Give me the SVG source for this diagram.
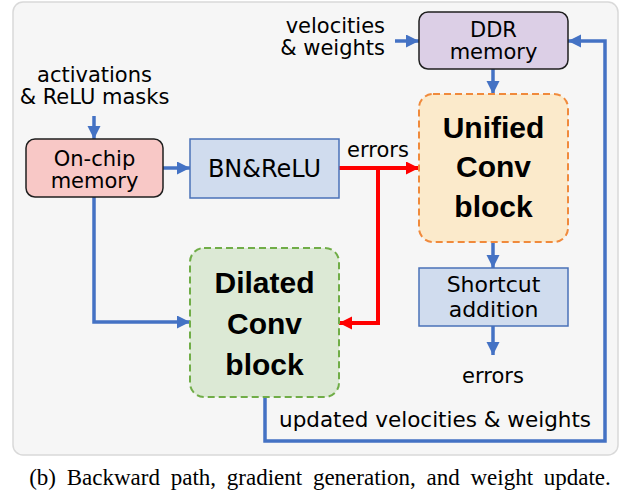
<svg xmlns="http://www.w3.org/2000/svg" width="626" height="495" viewBox="0 0 626 495">
<style>
.t{font-family:"DejaVu Sans",sans-serif;font-size:21px;fill:#000;text-anchor:middle}
.b{font-family:"Liberation Sans",Arial,sans-serif;font-size:30px;font-weight:bold;fill:#000;text-anchor:middle}
.solid{stroke:#1f1f1f;stroke-width:1.5}
.blue{fill:#d0dcee;stroke:#4a72b8;stroke-width:1.5}
.bl{fill:none;stroke:#4472c4;stroke-width:3.5}
.rd{fill:none;stroke:#ff0000;stroke-width:4}
</style>
<defs>
<marker id="ab" markerUnits="userSpaceOnUse" markerWidth="14" markerHeight="14" refX="13" refY="6.5" orient="auto"><path d="M0,0 L13,6.5 L0,13 z" fill="#4472c4"/></marker>
<marker id="ar" markerUnits="userSpaceOnUse" markerWidth="14" markerHeight="14" refX="13" refY="6.5" orient="auto"><path d="M0,0 L13,6.5 L0,13 z" fill="#ff0000"/></marker>
</defs>
<rect x="13" y="2" width="605" height="453" rx="10" fill="#f6f6f6" stroke="#d9d9d9" stroke-width="1.5"/>
<g id="connectors">
<line class="bl" x1="94" y1="116" x2="94" y2="139" marker-end="url(#ab)"/>
<line class="bl" x1="163" y1="168" x2="190" y2="168" marker-end="url(#ab)"/>
<line class="bl" x1="395" y1="41" x2="419" y2="41" marker-end="url(#ab)"/>
<line class="bl" x1="493" y1="69" x2="493" y2="94" marker-end="url(#ab)"/>
<line class="bl" x1="493" y1="242" x2="493" y2="268" marker-end="url(#ab)"/>
<line class="bl" x1="493" y1="326" x2="493" y2="355" marker-end="url(#ab)"/>
<polyline class="bl" points="94,197 94,322 190,322" marker-end="url(#ab)"/>
<polyline class="bl" points="265,397 265,441 605,441 605,41 568,41" marker-end="url(#ab)"/>
<line class="rd" x1="339" y1="168" x2="419" y2="168" marker-end="url(#ar)"/>
<polyline class="rd" points="378,168 378,323 339,323" marker-end="url(#ar)"/>
</g>
<g id="onchip">
<rect x="26" y="139" width="137" height="58" rx="9" fill="#f8c8c6" class="solid"/>
<text class="t" x="94.5" y="166">On-chip</text>
<text class="t" x="94.5" y="188">memory</text>
</g>
<g id="bnrelu">
<rect x="190" y="139" width="149" height="59" class="blue"/>
<text class="t" x="264.5" y="177" style="font-size:24px">BN&amp;ReLU</text>
</g>
<g id="ddr">
<rect x="419" y="12" width="149" height="57" rx="9" fill="#dccfe6" class="solid"/>
<text class="t" x="493.5" y="37">DDR</text>
<text class="t" x="493.5" y="59">memory</text>
</g>
<g id="unified">
<rect x="419" y="94" width="149" height="148" rx="14" fill="#fbeacb" stroke="#f08a3c" stroke-width="2" stroke-dasharray="7,4"/>
<text class="b" x="493.5" y="138">Unified</text>
<text class="b" x="493.5" y="177">Conv</text>
<text class="b" x="493.5" y="217">block</text>
</g>
<g id="dilated">
<rect x="190" y="248" width="149" height="149" rx="14" fill="#dce9d5" stroke="#70ad47" stroke-width="2" stroke-dasharray="7,4"/>
<text class="b" x="264.5" y="293">Dilated</text>
<text class="b" x="264.5" y="334">Conv</text>
<text class="b" x="264.5" y="375">block</text>
</g>
<g id="shortcut">
<rect x="419" y="268" width="149" height="58" class="blue"/>
<text class="t" x="493.5" y="292" style="font-size:22px">Shortcut</text>
<text class="t" x="493.5" y="317" style="font-size:22px">addition</text>
</g>
<g id="labels">
<text class="t" x="94.5" y="82">activations</text>
<text class="t" x="94.5" y="104">&amp; ReLU masks</text>
<text class="t" x="385" y="33" style="text-anchor:end">velocities</text>
<text class="t" x="385" y="55" style="text-anchor:end">&amp; weights</text>
<text class="t" x="378" y="157">errors</text>
<text class="t" x="493" y="383">errors</text>
<text class="t" x="279" y="427" style="text-anchor:start;font-size:21.5px">updated velocities &amp; weights</text>
</g>
<text x="320" y="485" style="font-family:'Liberation Serif','Times New Roman',serif;font-size:23px;text-anchor:middle;word-spacing:5px">(b) Backward path, gradient generation, and weight update.</text>
</svg>
